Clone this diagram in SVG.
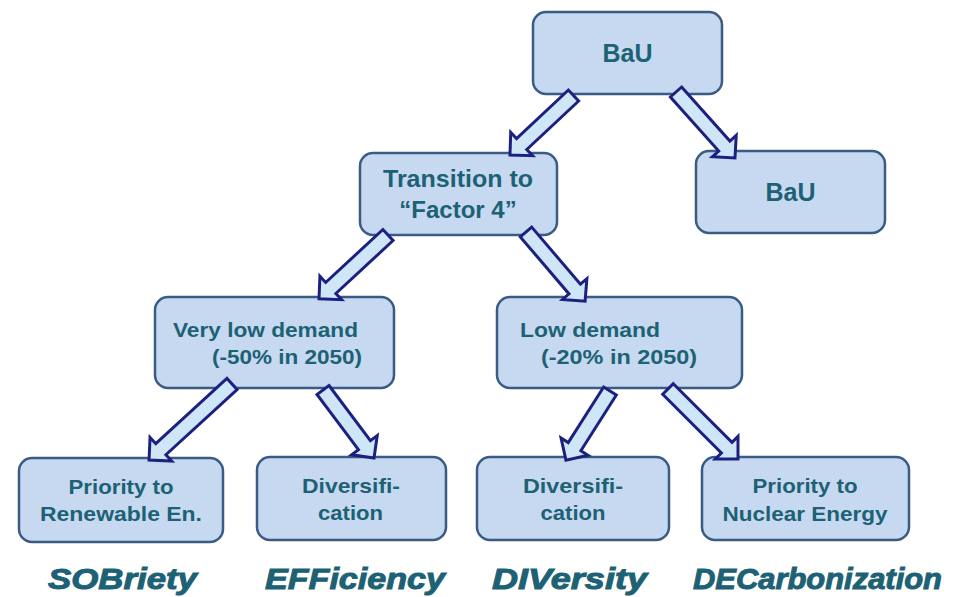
<svg xmlns="http://www.w3.org/2000/svg" width="960" height="597" viewBox="0 0 960 597">
<style>
.box{fill:#c6d9f1;stroke:#3a5b85;stroke-width:2.5}
.t{font-family:"Liberation Sans",Arial,sans-serif;font-weight:bold;fill:#1d6174}
.c{text-anchor:middle}
.arr{fill:#cfe6f9;stroke:#1c2180;stroke-width:3;stroke-linejoin:miter}
.lab{font-family:"Liberation Sans",Arial,sans-serif;font-weight:bold;font-style:italic;fill:#1d6174;stroke:#1d6174;stroke-width:1;text-anchor:middle;font-size:30px}
</style>
<rect width="960" height="597" fill="#ffffff"/>
<g id="n-bau-top"><rect class="box" x="533" y="12" width="189" height="82" rx="13"/><text class="t c" x="627.5" y="62" font-size="25">BaU</text></g>
<g id="n-bau-right"><rect class="box" x="696" y="151" width="189" height="82" rx="13"/><text class="t c" x="790.5" y="201" font-size="25">BaU</text></g>
<g id="n-transition"><rect class="box" x="360" y="153" width="197" height="82" rx="13"/><text class="t c" x="458" y="187" font-size="24" textLength="150" lengthAdjust="spacingAndGlyphs">Transition to</text><text class="t c" x="458" y="218" font-size="24">“Factor 4”</text></g>
<g id="n-verylow"><rect class="box" x="155" y="297" width="239" height="91" rx="13"/><text class="t" x="173" y="337" font-size="20" textLength="185" lengthAdjust="spacingAndGlyphs">Very low demand</text><text class="t" x="212" y="364" font-size="20" textLength="150" lengthAdjust="spacingAndGlyphs">(-50% in 2050)</text></g>
<g id="n-low"><rect class="box" x="497" y="297" width="245" height="91" rx="13"/><text class="t" x="520" y="337" font-size="20" textLength="140" lengthAdjust="spacingAndGlyphs">Low demand</text><text class="t" x="541" y="364" font-size="20" textLength="156" lengthAdjust="spacingAndGlyphs">(-20% in 2050)</text></g>
<g id="n-renew"><rect class="box" x="19" y="458" width="204" height="84" rx="13"/><text class="t c" x="121" y="494" font-size="20" textLength="105" lengthAdjust="spacingAndGlyphs">Priority to</text><text class="t c" x="121" y="521" font-size="20" textLength="162" lengthAdjust="spacingAndGlyphs">Renewable En.</text></g>
<g id="n-div1"><rect class="box" x="257" y="457" width="189" height="83" rx="13"/><text class="t c" x="351" y="493" font-size="20.5" textLength="98" lengthAdjust="spacingAndGlyphs">Diversifi-</text><text class="t c" x="350.5" y="520" font-size="20.5" textLength="65" lengthAdjust="spacingAndGlyphs">cation</text></g>
<g id="n-div2"><rect class="box" x="477" y="457" width="192" height="83" rx="13"/><text class="t c" x="573" y="493" font-size="20.5" textLength="100" lengthAdjust="spacingAndGlyphs">Diversifi-</text><text class="t c" x="573" y="520" font-size="20.5" textLength="65" lengthAdjust="spacingAndGlyphs">cation</text></g>
<g id="n-nuclear"><rect class="box" x="702" y="457" width="207" height="83" rx="13"/><text class="t c" x="805" y="493" font-size="20" textLength="105" lengthAdjust="spacingAndGlyphs">Priority to</text><text class="t c" x="805" y="521" font-size="20" textLength="165" lengthAdjust="spacingAndGlyphs">Nuclear Energy</text></g>
<g id="connectors">
<polygon class="arr" transform="translate(573.5,95.5) rotate(136.9)" points="0,-7.5 71,-7.5 71,-16 87,0 71,16 71,7.5 0,7.5"/>
<polygon class="arr" transform="translate(676,92) rotate(48.2)" points="0,-7.5 72.5,-7.5 72.5,-16 88.5,0 72.5,16 72.5,7.5 0,7.5"/>
<polygon class="arr" transform="translate(388,235) rotate(137.2)" points="0,-7.5 78,-7.5 78,-16 94,0 78,16 78,7.5 0,7.5"/>
<polygon class="arr" transform="translate(526,232) rotate(49.5)" points="0,-7.5 75,-7.5 75,-16 91,0 75,16 75,7.5 0,7.5"/>
<polygon class="arr" transform="translate(232,384) rotate(137.5)" points="0,-7.5 96.5,-7.5 96.5,-16 112.5,0 96.5,16 96.5,7.5 0,7.5"/>
<polygon class="arr" transform="translate(323,390) rotate(53.1)" points="0,-7.5 69,-7.5 69,-16 85,0 69,16 69,7.5 0,7.5"/>
<polygon class="arr" transform="translate(610,391) rotate(122.5)" points="0,-7.5 66,-7.5 66,-16 82,0 66,16 66,7.5 0,7.5"/>
<polygon class="arr" transform="translate(668,389) rotate(45)" points="0,-7.5 83,-7.5 83,-16 99,0 83,16 83,7.5 0,7.5"/>
</g>
<g id="labels">
<text class="lab" x="122.5" y="589" textLength="149" lengthAdjust="spacingAndGlyphs">SOBriety</text>
<text class="lab" x="355" y="589" textLength="180" lengthAdjust="spacingAndGlyphs">EFFiciency</text>
<text class="lab" x="569.5" y="589" textLength="155" lengthAdjust="spacingAndGlyphs">DIVersity</text>
<text class="lab" x="817.5" y="589" textLength="249" lengthAdjust="spacingAndGlyphs">DECarbonization</text>
</g>
</svg>
